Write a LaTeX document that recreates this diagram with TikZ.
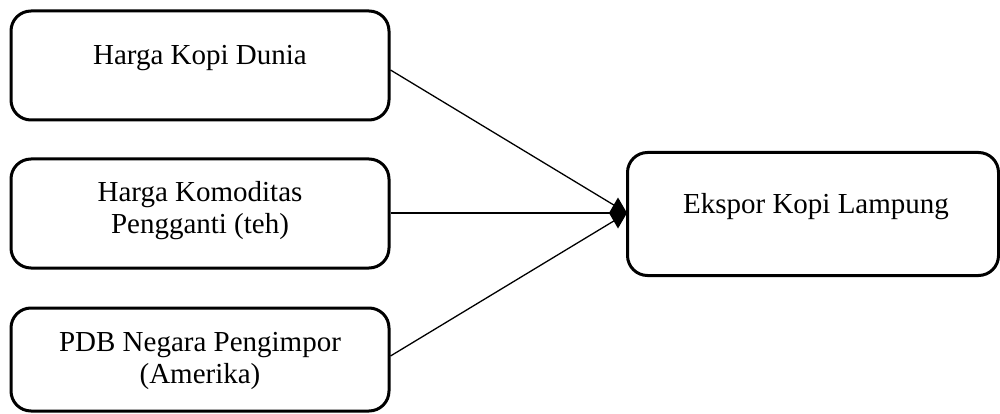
\documentclass[tikz,border=0pt]{standalone}
\usepackage{fontspec}
\setmainfont{Liberation Serif}
\usetikzlibrary{arrows.meta}
\begin{document}
\begin{tikzpicture}[x=1pt,y=-1pt,
  box/.style={draw=black, line width=3pt, rounded corners=20pt, inner sep=0pt},
  lbl/.style={inner sep=0pt, anchor=base, align=center, font=\fontsize{29}{31.5}\selectfont},
  link/.style={line width=1.3pt}]
\useasboundingbox (0,0) rectangle (1000,414);
\node[box, minimum width=378pt, minimum height=109pt] (b1) at (200,65.5) {};
\node[box, minimum width=378pt, minimum height=109pt] (b2) at (200,213.5) {};
\node[box, minimum width=378pt, minimum height=103pt] (b3) at (200,359.5) {};
\node[box, minimum width=371pt, minimum height=123pt] (out) at (813,214) {};
\node[lbl] (t1) at (200,65) {Harga Kopi Dunia};
\node[lbl] (t2) at (200,233) {Harga Komoditas\\Pengganti (teh)};
\node[lbl] (t3) at (200,383) {PDB Negara Pengimpor\\(Amerika)};
\node[lbl] (t4) at (816,213) {Ekspor Kopi Lampung};
\coordinate (tip) at (627,213);
\draw[link] (b1.east |- 0,70) -- (tip);
\draw[link] (b3.east |- 0,356) -- (tip);
\draw[link, -{Diamond[length=18pt,width=31pt]}] (b2.east |- 0,213) -- (tip);
\end{tikzpicture}
\end{document}
